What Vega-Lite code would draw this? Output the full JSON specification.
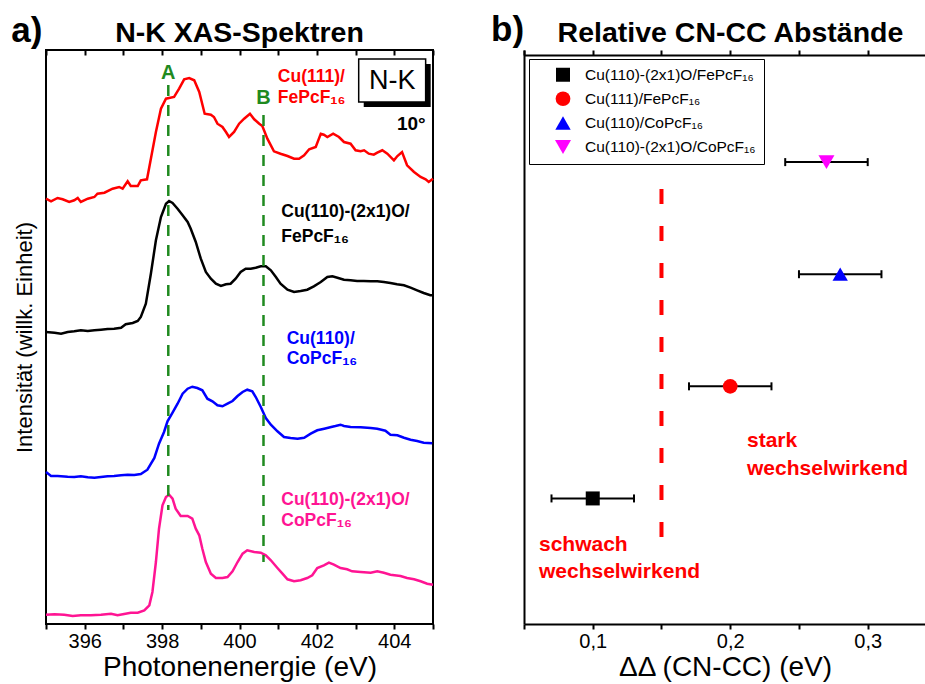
{
  "$schema": "https://vega.github.io/schema/vega-lite/v6.json",
  "padding": {"left": 10, "top": 12, "right": 0, "bottom": 0},
  "bounds": "flush",
  "spacing": 91,
  "config": {
    "font": "Liberation Sans",
    "view": {"stroke": null},
    "axis": {"grid": false, "tickColor": "black", "tickWidth": 2, "domainColor": "black", "domainWidth": 2, "labelColor": "black", "titleColor": "black", "labelFont": "Liberation Sans", "titleFont": "Liberation Sans", "titleFontWeight": "normal"}
  },
  "resolve": {"scale": {"color": "independent", "shape": "independent", "size": "independent", "x": "independent", "y": "independent"}},
  "datasets": {
    "spectra": [
      {"s":"Cu111-Fe","E":395.00,"I":425.3},{"s":"Cu111-Fe","E":395.13,"I":422.7},{"s":"Cu111-Fe","E":395.30,"I":426},{"s":"Cu111-Fe","E":395.43,"I":424.7},{"s":"Cu111-Fe","E":395.60,"I":422},{"s":"Cu111-Fe","E":395.73,"I":423.7},{"s":"Cu111-Fe","E":395.82,"I":426},{"s":"Cu111-Fe","E":395.90,"I":422},{"s":"Cu111-Fe","E":396.08,"I":425.3},{"s":"Cu111-Fe","E":396.25,"I":427},{"s":"Cu111-Fe","E":396.33,"I":430.3},{"s":"Cu111-Fe","E":396.51,"I":431.3},{"s":"Cu111-Fe","E":396.72,"I":435.3},{"s":"Cu111-Fe","E":396.89,"I":437},{"s":"Cu111-Fe","E":396.98,"I":435.3},{"s":"Cu111-Fe","E":397.11,"I":442.7},{"s":"Cu111-Fe","E":397.19,"I":438},{"s":"Cu111-Fe","E":397.37,"I":438},{"s":"Cu111-Fe","E":397.45,"I":443.7},{"s":"Cu111-Fe","E":397.61,"I":444.7},{"s":"Cu111-Fe","E":397.71,"I":465.3},{"s":"Cu111-Fe","E":397.84,"I":492},{"s":"Cu111-Fe","E":397.97,"I":515.3},{"s":"Cu111-Fe","E":398.10,"I":525.3},{"s":"Cu111-Fe","E":398.18,"I":526},{"s":"Cu111-Fe","E":398.31,"I":527},{"s":"Cu111-Fe","E":398.44,"I":535.3},{"s":"Cu111-Fe","E":398.57,"I":544.7},{"s":"Cu111-Fe","E":398.70,"I":546},{"s":"Cu111-Fe","E":398.83,"I":543.7},{"s":"Cu111-Fe","E":398.96,"I":532},{"s":"Cu111-Fe","E":399.10,"I":510.3},{"s":"Cu111-Fe","E":399.26,"I":509.3},{"s":"Cu111-Fe","E":399.34,"I":507},{"s":"Cu111-Fe","E":399.43,"I":500.3},{"s":"Cu111-Fe","E":399.56,"I":497},{"s":"Cu111-Fe","E":399.65,"I":492},{"s":"Cu111-Fe","E":399.73,"I":487},{"s":"Cu111-Fe","E":399.86,"I":492},{"s":"Cu111-Fe","E":399.99,"I":500.3},{"s":"Cu111-Fe","E":400.12,"I":505.3},{"s":"Cu111-Fe","E":400.27,"I":510.3},{"s":"Cu111-Fe","E":400.38,"I":504.7},{"s":"Cu111-Fe","E":400.51,"I":500.3},{"s":"Cu111-Fe","E":400.59,"I":498},{"s":"Cu111-Fe","E":400.72,"I":485.3},{"s":"Cu111-Fe","E":400.89,"I":472.7},{"s":"Cu111-Fe","E":401.06,"I":470.3},{"s":"Cu111-Fe","E":401.24,"I":468},{"s":"Cu111-Fe","E":401.41,"I":465.3},{"s":"Cu111-Fe","E":401.54,"I":465.3},{"s":"Cu111-Fe","E":401.67,"I":468.7},{"s":"Cu111-Fe","E":401.80,"I":474.7},{"s":"Cu111-Fe","E":401.97,"I":477},{"s":"Cu111-Fe","E":402.10,"I":490.3},{"s":"Cu111-Fe","E":402.18,"I":489.3},{"s":"Cu111-Fe","E":402.27,"I":487},{"s":"Cu111-Fe","E":402.42,"I":490.3},{"s":"Cu111-Fe","E":402.57,"I":487},{"s":"Cu111-Fe","E":402.70,"I":482},{"s":"Cu111-Fe","E":402.87,"I":480.3},{"s":"Cu111-Fe","E":403.00,"I":473.7},{"s":"Cu111-Fe","E":403.13,"I":472.7},{"s":"Cu111-Fe","E":403.22,"I":473.7},{"s":"Cu111-Fe","E":403.34,"I":470.3},{"s":"Cu111-Fe","E":403.47,"I":469.3},{"s":"Cu111-Fe","E":403.56,"I":471.3},{"s":"Cu111-Fe","E":403.69,"I":473.7},{"s":"Cu111-Fe","E":403.82,"I":470.3},{"s":"Cu111-Fe","E":403.99,"I":463.7},{"s":"Cu111-Fe","E":404.08,"I":468},{"s":"Cu111-Fe","E":404.20,"I":472},{"s":"Cu111-Fe","E":404.33,"I":458.7},{"s":"Cu111-Fe","E":404.51,"I":452},{"s":"Cu111-Fe","E":404.68,"I":447},{"s":"Cu111-Fe","E":404.81,"I":444.7},{"s":"Cu111-Fe","E":404.89,"I":442},{"s":"Cu111-Fe","E":405.00,"I":445.3},
      {"s":"Cu110O-Fe","E":395.00,"I":292},{"s":"Cu110O-Fe","E":395.22,"I":291.3},{"s":"Cu110O-Fe","E":395.39,"I":290.3},{"s":"Cu110O-Fe","E":395.56,"I":292},{"s":"Cu110O-Fe","E":395.73,"I":292.7},{"s":"Cu110O-Fe","E":395.90,"I":293.7},{"s":"Cu110O-Fe","E":396.08,"I":293},{"s":"Cu110O-Fe","E":396.25,"I":293.7},{"s":"Cu110O-Fe","E":396.42,"I":294.3},{"s":"Cu110O-Fe","E":396.59,"I":295},{"s":"Cu110O-Fe","E":396.76,"I":295.3},{"s":"Cu110O-Fe","E":396.94,"I":296.3},{"s":"Cu110O-Fe","E":397.06,"I":299.7},{"s":"Cu110O-Fe","E":397.24,"I":301},{"s":"Cu110O-Fe","E":397.37,"I":303},{"s":"Cu110O-Fe","E":397.45,"I":307},{"s":"Cu110O-Fe","E":397.58,"I":320.3},{"s":"Cu110O-Fe","E":397.71,"I":350.3},{"s":"Cu110O-Fe","E":397.84,"I":383.7},{"s":"Cu110O-Fe","E":397.97,"I":407},{"s":"Cu110O-Fe","E":398.10,"I":420.3},{"s":"Cu110O-Fe","E":398.18,"I":423},{"s":"Cu110O-Fe","E":398.27,"I":421},{"s":"Cu110O-Fe","E":398.40,"I":415.3},{"s":"Cu110O-Fe","E":398.53,"I":408.7},{"s":"Cu110O-Fe","E":398.66,"I":402},{"s":"Cu110O-Fe","E":398.74,"I":395.3},{"s":"Cu110O-Fe","E":398.87,"I":382},{"s":"Cu110O-Fe","E":399.00,"I":365.3},{"s":"Cu110O-Fe","E":399.13,"I":352},{"s":"Cu110O-Fe","E":399.26,"I":345.3},{"s":"Cu110O-Fe","E":399.39,"I":340.3},{"s":"Cu110O-Fe","E":399.52,"I":338},{"s":"Cu110O-Fe","E":399.65,"I":339.7},{"s":"Cu110O-Fe","E":399.77,"I":340.3},{"s":"Cu110O-Fe","E":399.90,"I":345.3},{"s":"Cu110O-Fe","E":400.03,"I":352},{"s":"Cu110O-Fe","E":400.16,"I":355.3},{"s":"Cu110O-Fe","E":400.29,"I":355.3},{"s":"Cu110O-Fe","E":400.42,"I":356.3},{"s":"Cu110O-Fe","E":400.55,"I":357.7},{"s":"Cu110O-Fe","E":400.68,"I":357.7},{"s":"Cu110O-Fe","E":400.81,"I":353.7},{"s":"Cu110O-Fe","E":400.94,"I":347},{"s":"Cu110O-Fe","E":401.06,"I":340.3},{"s":"Cu110O-Fe","E":401.24,"I":334.3},{"s":"Cu110O-Fe","E":401.41,"I":332},{"s":"Cu110O-Fe","E":401.58,"I":333},{"s":"Cu110O-Fe","E":401.75,"I":334.3},{"s":"Cu110O-Fe","E":401.92,"I":337.7},{"s":"Cu110O-Fe","E":402.10,"I":342},{"s":"Cu110O-Fe","E":402.27,"I":347},{"s":"Cu110O-Fe","E":402.40,"I":347.7},{"s":"Cu110O-Fe","E":402.53,"I":346.3},{"s":"Cu110O-Fe","E":402.70,"I":344.3},{"s":"Cu110O-Fe","E":402.87,"I":343.7},{"s":"Cu110O-Fe","E":403.04,"I":343},{"s":"Cu110O-Fe","E":403.21,"I":343},{"s":"Cu110O-Fe","E":403.39,"I":342.7},{"s":"Cu110O-Fe","E":403.56,"I":342.7},{"s":"Cu110O-Fe","E":403.73,"I":342},{"s":"Cu110O-Fe","E":403.90,"I":341},{"s":"Cu110O-Fe","E":404.07,"I":339.7},{"s":"Cu110O-Fe","E":404.25,"I":338.7},{"s":"Cu110O-Fe","E":404.42,"I":336.3},{"s":"Cu110O-Fe","E":404.59,"I":333.7},{"s":"Cu110O-Fe","E":404.76,"I":331},{"s":"Cu110O-Fe","E":404.93,"I":328.7},{"s":"Cu110O-Fe","E":405.00,"I":328.7},
      {"s":"Cu110-Co","E":395.00,"I":152},{"s":"Cu110-Co","E":395.13,"I":148},{"s":"Cu110-Co","E":395.30,"I":148},{"s":"Cu110-Co","E":395.56,"I":147.3},{"s":"Cu110-Co","E":395.73,"I":147},{"s":"Cu110-Co","E":395.90,"I":147.7},{"s":"Cu110-Co","E":396.08,"I":146.7},{"s":"Cu110-Co","E":396.25,"I":146.3},{"s":"Cu110-Co","E":396.42,"I":147},{"s":"Cu110-Co","E":396.59,"I":147.7},{"s":"Cu110-Co","E":396.76,"I":148},{"s":"Cu110-Co","E":396.94,"I":148.7},{"s":"Cu110-Co","E":397.11,"I":149.3},{"s":"Cu110-Co","E":397.28,"I":149},{"s":"Cu110-Co","E":397.45,"I":150},{"s":"Cu110-Co","E":397.62,"I":154.3},{"s":"Cu110-Co","E":397.80,"I":166},{"s":"Cu110-Co","E":397.92,"I":180.3},{"s":"Cu110-Co","E":398.05,"I":192},{"s":"Cu110-Co","E":398.14,"I":202.7},{"s":"Cu110-Co","E":398.27,"I":211.3},{"s":"Cu110-Co","E":398.40,"I":220.3},{"s":"Cu110-Co","E":398.53,"I":230.3},{"s":"Cu110-Co","E":398.66,"I":235.3},{"s":"Cu110-Co","E":398.78,"I":237.3},{"s":"Cu110-Co","E":398.91,"I":236},{"s":"Cu110-Co","E":399.04,"I":233.7},{"s":"Cu110-Co","E":399.17,"I":225.3},{"s":"Cu110-Co","E":399.30,"I":222.7},{"s":"Cu110-Co","E":399.43,"I":218.7},{"s":"Cu110-Co","E":399.56,"I":217.7},{"s":"Cu110-Co","E":399.69,"I":220.3},{"s":"Cu110-Co","E":399.82,"I":223},{"s":"Cu110-Co","E":399.95,"I":228},{"s":"Cu110-Co","E":400.08,"I":232},{"s":"Cu110-Co","E":400.20,"I":234.3},{"s":"Cu110-Co","E":400.33,"I":232.7},{"s":"Cu110-Co","E":400.42,"I":227},{"s":"Cu110-Co","E":400.55,"I":217},{"s":"Cu110-Co","E":400.68,"I":206},{"s":"Cu110-Co","E":400.81,"I":199.3},{"s":"Cu110-Co","E":400.98,"I":192.7},{"s":"Cu110-Co","E":401.15,"I":187},{"s":"Cu110-Co","E":401.32,"I":186},{"s":"Cu110-Co","E":401.50,"I":185.3},{"s":"Cu110-Co","E":401.67,"I":186.3},{"s":"Cu110-Co","E":401.84,"I":190.3},{"s":"Cu110-Co","E":402.01,"I":193.7},{"s":"Cu110-Co","E":402.19,"I":195.3},{"s":"Cu110-Co","E":402.37,"I":197},{"s":"Cu110-Co","E":402.48,"I":198},{"s":"Cu110-Co","E":402.61,"I":199.3},{"s":"Cu110-Co","E":402.70,"I":198},{"s":"Cu110-Co","E":402.87,"I":197},{"s":"Cu110-Co","E":403.13,"I":196.7},{"s":"Cu110-Co","E":403.39,"I":196},{"s":"Cu110-Co","E":403.56,"I":195.3},{"s":"Cu110-Co","E":403.77,"I":193.3},{"s":"Cu110-Co","E":403.90,"I":189.3},{"s":"Cu110-Co","E":404.08,"I":188.7},{"s":"Cu110-Co","E":404.25,"I":186.3},{"s":"Cu110-Co","E":404.42,"I":184.3},{"s":"Cu110-Co","E":404.59,"I":183},{"s":"Cu110-Co","E":404.76,"I":181.3},{"s":"Cu110-Co","E":404.98,"I":180.7},
      {"s":"Cu110O-Co","E":395.00,"I":9.3},{"s":"Cu110O-Co","E":395.22,"I":9.7},{"s":"Cu110O-Co","E":395.47,"I":9.3},{"s":"Cu110O-Co","E":395.69,"I":8},{"s":"Cu110O-Co","E":395.90,"I":8.7},{"s":"Cu110O-Co","E":396.16,"I":8.7},{"s":"Cu110O-Co","E":396.42,"I":9.3},{"s":"Cu110O-Co","E":396.68,"I":10.3},{"s":"Cu110O-Co","E":396.85,"I":8.7},{"s":"Cu110O-Co","E":397.02,"I":10},{"s":"Cu110O-Co","E":397.19,"I":11.3},{"s":"Cu110O-Co","E":397.37,"I":11.3},{"s":"Cu110O-Co","E":397.54,"I":13.7},{"s":"Cu110O-Co","E":397.67,"I":18.7},{"s":"Cu110O-Co","E":397.75,"I":32},{"s":"Cu110O-Co","E":397.84,"I":62},{"s":"Cu110O-Co","E":397.92,"I":95.3},{"s":"Cu110O-Co","E":398.01,"I":118.7},{"s":"Cu110O-Co","E":398.10,"I":127},{"s":"Cu110O-Co","E":398.18,"I":129.3},{"s":"Cu110O-Co","E":398.27,"I":125.3},{"s":"Cu110O-Co","E":398.35,"I":115.3},{"s":"Cu110O-Co","E":398.48,"I":108},{"s":"Cu110O-Co","E":398.66,"I":108},{"s":"Cu110O-Co","E":398.78,"I":105.3},{"s":"Cu110O-Co","E":398.87,"I":95.3},{"s":"Cu110O-Co","E":398.96,"I":88.7},{"s":"Cu110O-Co","E":399.04,"I":75.3},{"s":"Cu110O-Co","E":399.13,"I":62},{"s":"Cu110O-Co","E":399.26,"I":50.3},{"s":"Cu110O-Co","E":399.39,"I":46},{"s":"Cu110O-Co","E":399.56,"I":46},{"s":"Cu110O-Co","E":399.69,"I":47},{"s":"Cu110O-Co","E":399.82,"I":52.7},{"s":"Cu110O-Co","E":399.95,"I":62},{"s":"Cu110O-Co","E":400.08,"I":70.3},{"s":"Cu110O-Co","E":400.20,"I":73.7},{"s":"Cu110O-Co","E":400.38,"I":72},{"s":"Cu110O-Co","E":400.55,"I":71.3},{"s":"Cu110O-Co","E":400.68,"I":68.7},{"s":"Cu110O-Co","E":400.81,"I":63.7},{"s":"Cu110O-Co","E":400.98,"I":56},{"s":"Cu110O-Co","E":401.11,"I":50.3},{"s":"Cu110O-Co","E":401.24,"I":44.7},{"s":"Cu110O-Co","E":401.41,"I":42.7},{"s":"Cu110O-Co","E":401.58,"I":43.7},{"s":"Cu110O-Co","E":401.75,"I":46},{"s":"Cu110O-Co","E":401.88,"I":48.7},{"s":"Cu110O-Co","E":402.01,"I":56},{"s":"Cu110O-Co","E":402.18,"I":58.7},{"s":"Cu110O-Co","E":402.31,"I":61.3},{"s":"Cu110O-Co","E":402.44,"I":59.3},{"s":"Cu110O-Co","E":402.61,"I":56},{"s":"Cu110O-Co","E":402.78,"I":54.7},{"s":"Cu110O-Co","E":402.91,"I":52.7},{"s":"Cu110O-Co","E":403.13,"I":52},{"s":"Cu110O-Co","E":403.39,"I":51.3},{"s":"Cu110O-Co","E":403.56,"I":52.7},{"s":"Cu110O-Co","E":403.73,"I":51.3},{"s":"Cu110O-Co","E":403.90,"I":49.3},{"s":"Cu110O-Co","E":404.16,"I":48},{"s":"Cu110O-Co","E":404.33,"I":46},{"s":"Cu110O-Co","E":404.51,"I":44.7},{"s":"Cu110O-Co","E":404.68,"I":42.7},{"s":"Cu110O-Co","E":404.85,"I":40.3},{"s":"Cu110O-Co","E":405.00,"I":39.3}
    ],
    "sampleLabels": [
      {"s":"Cu111-Fe","t":"Cu(111)/","E":400.99,"I":547},
      {"s":"Cu111-Fe","t":"FePcF₁₆","E":400.99,"I":526},
      {"s":"Cu110O-Fe","t":"Cu(110)-(2x1)O/","E":401.08,"I":412},
      {"s":"Cu110O-Fe","t":"FePcF₁₆","E":401.08,"I":387},
      {"s":"Cu110-Co","t":"Cu(110)/","E":401.22,"I":285},
      {"s":"Cu110-Co","t":"CoPcF₁₆","E":401.22,"I":265},
      {"s":"Cu110O-Co","t":"Cu(110)-(2x1)O/","E":401.08,"I":124},
      {"s":"Cu110O-Co","t":"CoPcF₁₆","E":401.08,"I":103}
    ],
    "shifts": [
      {"sample":"Cu(110)-(2x1)O/FePcF₁₆","dd":0.10,"lo":0.07,"hi":0.13,"pos":1},
      {"sample":"Cu(111)/FePcF₁₆","dd":0.20,"lo":0.17,"hi":0.23,"pos":2},
      {"sample":"Cu(110)/CoPcF₁₆","dd":0.28,"lo":0.25,"hi":0.31,"pos":3},
      {"sample":"Cu(110)-(2x1)O/CoPcF₁₆","dd":0.27,"lo":0.24,"hi":0.30,"pos":4}
    ]
  },
  "hconcat": [
    {
      "width": 387,
      "height": 574,
      "view": {"stroke": "black", "strokeWidth": 2},
      "resolve": {"axis": {"x": "independent", "y": "independent"}},
      "layer": [
        {
          "data": {"name": "spectra"},
          "mark": {"type": "line", "strokeWidth": 2.5},
          "encoding": {
            "x": {"field": "E", "type": "quantitative", "scale": {"domain": [395, 405], "nice": false, "zero": false},
                  "axis": {"orient": "bottom", "values": [395,396,397,398,399,400,401,402,403,404,405], "labelExpr": "datum.value % 2 == 0 ? datum.label : ''", "domain": false, "tickSize": 5, "labelFontSize": 20, "labelPadding": 2, "title": "Photonenenergie (eV)", "titleFontSize": 28, "titlePadding": 2}},
            "y": {"field": "I", "type": "quantitative", "scale": {"domain": [0, 574], "nice": false, "zero": false},
                  "axis": {"domain": false, "ticks": false, "labels": false, "title": "Intensität (willk. Einheit)", "titleFontSize": 22, "titlePadding": 10}},
            "color": {"field": "s", "type": "nominal", "legend": null,
                      "scale": {"domain": ["Cu111-Fe", "Cu110O-Fe", "Cu110-Co", "Cu110O-Co"], "range": ["#ff0000", "#000000", "#0000ff", "#ff1493"]}},
            "detail": {"field": "s"}
          }
        },
        {
          "data": {"values": [{"peak": "A", "E": 398.16, "top": 539, "bot": 114}, {"peak": "B", "E": 400.62, "top": 509, "bot": 62}]},
          "mark": {"type": "rule", "color": "#1f8a1f", "strokeWidth": 2.5, "strokeDash": [11, 9]},
          "encoding": {
            "x": {"field": "E", "type": "quantitative", "axis": {"orient": "top", "values": [395,396,397,398,399,400,401,402,403,404,405], "labels": false, "domain": false, "tickSize": 5, "offset": -5, "title": null}},
            "y": {"field": "top", "type": "quantitative", "axis": null},
            "y2": {"field": "bot"}
          }
        },
        {
          "data": {"values": [{"peak": "A", "E": 398.16, "I": 551}, {"peak": "B", "E": 400.62, "I": 526}]},
          "mark": {"type": "text", "color": "#1f8a1f", "fontSize": 20, "fontWeight": "bold", "align": "center", "baseline": "middle"},
          "encoding": {
            "x": {"field": "E", "type": "quantitative", "axis": null},
            "y": {"field": "I", "type": "quantitative", "axis": null},
            "text": {"field": "peak"}
          }
        },
        {
          "data": {"name": "sampleLabels"},
          "mark": {"type": "text", "fontSize": 17.5, "fontWeight": "bold", "align": "left", "baseline": "middle"},
          "encoding": {
            "x": {"field": "E", "type": "quantitative", "axis": null},
            "y": {"field": "I", "type": "quantitative", "axis": null},
            "text": {"field": "t"},
            "color": {"field": "s", "type": "nominal", "legend": null}
          }
        },
        {
          "data": {"values": [{"E1": 403.21, "E2": 404.94, "I1": 560, "I2": 517}]},
          "mark": {"type": "rect", "fill": "black"},
          "encoding": {
            "x": {"field": "E1", "type": "quantitative", "axis": null},
            "x2": {"field": "E2"},
            "y": {"field": "I1", "type": "quantitative", "axis": null},
            "y2": {"field": "I2"}
          }
        },
        {
          "data": {"values": [{"E1": 403.08, "E2": 404.81, "I1": 565, "I2": 522}]},
          "mark": {"type": "rect", "fill": "white", "stroke": "black", "strokeWidth": 1.5},
          "encoding": {
            "x": {"field": "E1", "type": "quantitative", "axis": null},
            "x2": {"field": "E2"},
            "y": {"field": "I1", "type": "quantitative", "axis": null},
            "y2": {"field": "I2"}
          }
        },
        {
          "data": {"values": [{"t": "N-K", "E": 403.95, "I": 543}]},
          "mark": {"type": "text", "fontSize": 27, "align": "center", "baseline": "middle", "color": "black"},
          "encoding": {
            "x": {"field": "E", "type": "quantitative", "axis": null},
            "y": {"field": "I", "type": "quantitative", "axis": null},
            "text": {"field": "t"}
          }
        },
        {
          "data": {"values": [{"t": "10°", "E": 404.81, "I": 494}]},
          "mark": {"type": "text", "fontSize": 19, "fontWeight": "bold", "align": "right", "baseline": "alphabetic", "color": "black"},
          "encoding": {
            "x": {"field": "E", "type": "quantitative", "axis": null},
            "y": {"field": "I", "type": "quantitative", "axis": null},
            "text": {"field": "t"}
          }
        },
        {
          "data": {"values": [{"t": "N-K XAS-Spektren", "E": 400.0, "I": 582}]},
          "mark": {"type": "text", "fontSize": 28.5, "fontWeight": "bold", "align": "center", "baseline": "alphabetic", "color": "black"},
          "encoding": {
            "x": {"field": "E", "type": "quantitative", "axis": null},
            "y": {"field": "I", "type": "quantitative", "axis": null},
            "text": {"field": "t"}
          }
        },
        {
          "data": {"values": [{"t": "a)", "E": 394.10, "I": 582}]},
          "mark": {"type": "text", "fontSize": 35, "fontWeight": "bold", "align": "left", "baseline": "alphabetic", "color": "black"},
          "encoding": {
            "x": {"field": "E", "type": "quantitative", "axis": null},
            "y": {"field": "I", "type": "quantitative", "axis": null},
            "text": {"field": "t"}
          }
        }
      ]
    },
    {
      "width": 402,
      "height": 574,
      "resolve": {"axis": {"x": "independent", "y": "independent"}},
      "layer": [
        {
          "data": {"values": [{"x": 0.15, "ytop": 3.76, "ybot": 0.585}]},
          "mark": {"type": "rule", "color": "#ff0000", "strokeWidth": 4, "strokeDash": [15, 22]},
          "encoding": {
            "x": {"field": "x", "type": "quantitative", "scale": {"domain": [0.05, 0.3424], "nice": false, "zero": false},
                  "axis": {"orient": "top", "values": [0.05, 0.1, 0.15, 0.2, 0.25, 0.3], "labels": false, "tickSize": 5, "offset": -5, "title": null}},
            "y": {"field": "ytop", "type": "quantitative", "scale": {"domain": [-0.12, 5], "nice": false, "zero": false}, "axis": null},
            "y2": {"field": "ybot"}
          }
        },
        {
          "data": {"name": "shifts"},
          "mark": {"type": "rule", "color": "black", "strokeWidth": 2},
          "encoding": {
            "x": {"field": "lo", "type": "quantitative", "axis": null},
            "x2": {"field": "hi"},
            "y": {"field": "pos", "type": "quantitative", "axis": null}
          }
        },
        {
          "data": {"name": "shifts"},
          "transform": [{"fold": ["lo", "hi"], "as": ["end", "xv"]}],
          "mark": {"type": "point", "shape": "M0,-1L0,1", "filled": false, "stroke": "black", "strokeWidth": 2, "size": 64, "opacity": 1},
          "encoding": {
            "x": {"field": "xv", "type": "quantitative", "axis": null},
            "y": {"field": "pos", "type": "quantitative", "axis": null}
          }
        },
        {
          "data": {"name": "shifts"},
          "mark": {"type": "point", "filled": true, "opacity": 1},
          "encoding": {
            "x": {"field": "dd", "type": "quantitative",
                  "axis": {"orient": "bottom", "values": [0.05, 0.1, 0.15, 0.2, 0.25, 0.3], "labelExpr": "abs(datum.value*10 - round(datum.value*10)) < 0.01 ? replace(format(datum.value, '.1f'), '.', ',') : ''", "tickSize": 5, "labelFontSize": 20, "labelPadding": 2, "title": "ΔΔ (CN-CC) (eV)", "titleFontSize": 28, "titlePadding": 2}},
            "y": {"field": "pos", "type": "quantitative", "axis": {"orient": "left", "ticks": false, "labels": false, "title": null}},
            "color": {"field": "sample", "type": "nominal",
                      "scale": {"domain": ["Cu(110)-(2x1)O/FePcF₁₆", "Cu(111)/FePcF₁₆", "Cu(110)/CoPcF₁₆", "Cu(110)-(2x1)O/CoPcF₁₆"], "range": ["#000000", "#ff0000", "#0000ff", "#ff00ff"]},
                      "legend": {"orient": "none", "legendX": 5, "legendY": 9, "title": null, "strokeColor": "black", "fillColor": "white", "padding": 8, "labelFontSize": 15.5, "labelLimit": 0, "labelColor": "black", "symbolSize": 240, "symbolOffset": 18, "labelOffset": 14, "rowPadding": 7, "symbolStrokeWidth": 0}},
            "shape": {"field": "sample", "type": "nominal",
                      "scale": {"domain": ["Cu(110)-(2x1)O/FePcF₁₆", "Cu(111)/FePcF₁₆", "Cu(110)/CoPcF₁₆", "Cu(110)-(2x1)O/CoPcF₁₆"], "range": ["square", "circle", "triangle-up", "triangle-down"]},
                      "legend": {"orient": "none", "legendX": 5, "legendY": 9, "title": null, "strokeColor": "black", "fillColor": "white", "padding": 8, "labelFontSize": 15.5, "labelLimit": 0, "labelColor": "black", "symbolSize": 240, "symbolOffset": 18, "labelOffset": 14, "rowPadding": 7, "symbolStrokeWidth": 0}},
            "size": {"field": "sample", "type": "nominal", "legend": null,
                     "scale": {"domain": ["Cu(110)-(2x1)O/FePcF₁₆", "Cu(111)/FePcF₁₆", "Cu(110)/CoPcF₁₆", "Cu(110)-(2x1)O/CoPcF₁₆"], "range": [196, 256, 340, 340]}}
          }
        },
        {
          "data": {"values": [{"t": "stark", "x": 0.2122, "y": 1.512}, {"t": "wechselwirkend", "x": 0.2122, "y": 1.263}, {"t": "schwach", "x": 0.0609, "y": 0.585}, {"t": "wechselwirkend", "x": 0.0609, "y": 0.344}]},
          "mark": {"type": "text", "color": "#ff0000", "fontSize": 21, "fontWeight": "bold", "align": "left", "baseline": "middle"},
          "encoding": {
            "x": {"field": "x", "type": "quantitative", "axis": null},
            "y": {"field": "y", "type": "quantitative", "axis": null},
            "text": {"field": "t"}
          }
        },
        {
          "data": {"values": [{"t": "Relative CN-CC Abstände", "x": 0.2002, "y": 5.071}]},
          "mark": {"type": "text", "fontSize": 28.5, "fontWeight": "bold", "align": "center", "baseline": "alphabetic", "color": "black"},
          "encoding": {
            "x": {"field": "x", "type": "quantitative", "axis": null},
            "y": {"field": "y", "type": "quantitative", "axis": null},
            "text": {"field": "t"}
          }
        },
        {
          "data": {"values": [{"t": "b)", "x": 0.026, "y": 5.08}]},
          "mark": {"type": "text", "fontSize": 35, "fontWeight": "bold", "align": "left", "baseline": "alphabetic", "color": "black"},
          "encoding": {
            "x": {"field": "x", "type": "quantitative", "axis": null},
            "y": {"field": "y", "type": "quantitative", "axis": null},
            "text": {"field": "t"}
          }
        }
      ]
    }
  ]
}
